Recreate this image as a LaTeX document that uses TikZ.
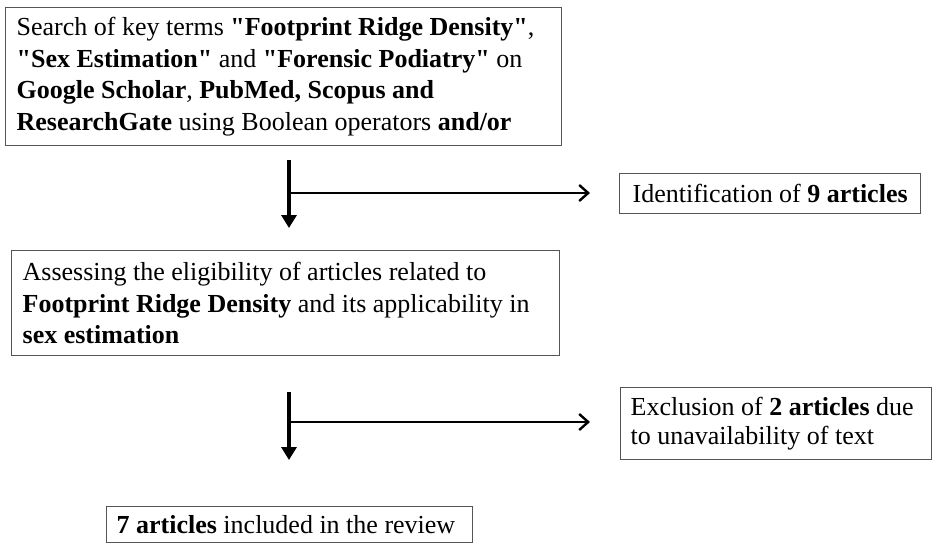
\documentclass[tikz,border=0pt]{standalone}
\usepackage{fontspec}
\setmainfont{Liberation Serif}[Ligatures=TeXOff]
\usetikzlibrary{arrows.meta}
\definecolor{boxgray}{RGB}{85,85,85}
\begin{document}
\begin{tikzpicture}[x=1pt,y=-1pt,
  box/.style={draw=boxgray, line width=1.3pt, inner ysep=0pt, align=flush left,
    font=\fontsize{26}{31.5}\selectfont, anchor=north west},
  downarrow/.style={line width=3.5pt, -{Triangle[length=13pt,width=15pt]}},
  sidearrow/.style={line width=2.4pt, -{Straight Barb[length=9pt,width=16pt]}}]
\useasboundingbox (0,0) rectangle (933,544);

\node[box, inner xsep=11pt, text width=534pt, minimum width=556pt, minimum height=138pt] (search) at (5,7)
 {Search of key terms \textbf{"Footprint Ridge Density"},\\
  \textbf{"Sex Estimation"} and \textbf{"Forensic Podiatry"} on\\
  \textbf{Google Scholar}, \textbf{PubMed, Scopus and}\\
  \textbf{ResearchGate} using Boolean operators \textbf{and/or}};

\node[box, inner xsep=13pt, text width=275pt, minimum width=301pt, minimum height=40pt] (ident) at (619,173)
 {Identification of \textbf{9 articles}};

\node[box, inner xsep=11pt, text width=526pt, minimum width=548pt, minimum height=105pt] (assess) at (11,250)
 {Assessing the eligibility of articles related to\\
  \textbf{Footprint Ridge Density} and its applicability in\\
  \textbf{sex estimation}};

\node[box, inner xsep=10pt, text width=291pt, minimum width=311pt, minimum height=72pt,
  font=\fontsize{26}{29}\selectfont] (excl) at (620,387)
 {Exclusion of \textbf{2 articles} due\\
  to unavailability of text};

\node[box, inner xsep=10pt, text width=346pt, minimum width=366pt, minimum height=36pt] (final) at (106,506)
 {\textbf{7 articles} included in the review};

\coordinate (a1top) at (289,160);
\coordinate (a1mid) at (289,193);
\coordinate (a1bot) at (289,228);
\coordinate (a1tip) at (590,193);
\coordinate (a2top) at (289,392);
\coordinate (a2mid) at (289,422);
\coordinate (a2bot) at (289,460);
\coordinate (a2tip) at (590,422);

\draw[downarrow] (a1top) -- (a1bot);
\draw[sidearrow] (a1mid) -- (a1tip);
\draw[downarrow] (a2top) -- (a2bot);
\draw[sidearrow] (a2mid) -- (a2tip);
\end{tikzpicture}
\end{document}
